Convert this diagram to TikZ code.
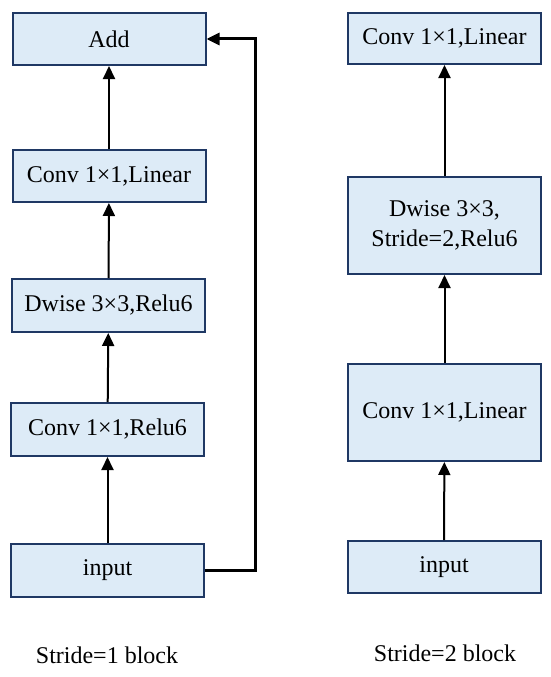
\documentclass[tikz,border=0pt]{standalone}
\usepackage{fontspec}
\setmainfont{Liberation Serif}
\usetikzlibrary{arrows.meta, positioning}
\definecolor{cfill}{HTML}{DDEBF7}
\definecolor{cedge}{HTML}{1F3864}
\tikzset{
  every picture/.style={font=\fontsize{24}{30}\selectfont},
  layer/.style={draw=cedge, fill=cfill, line width=2pt, align=center, minimum width=193pt, minimum height=#1, inner sep=0pt},
  layer/.default=52pt,
  arrow/.style={-{Triangle[length=13pt, width=12pt]}, draw=black, line width=2pt},
  skip/.style={arrow, line width=3pt},
  caption/.style={align=center},
}

\begin{document}
\begin{tikzpicture}[x=1pt, y=-1pt]
  \useasboundingbox (0,0) rectangle (550,677);
  % stride 1
  \node[layer] (add) at (109,39) {Add};
  \node[layer] (lin1) at (109,176) {Conv 1×1,Linear};
  \node[layer=53pt] (dw1) at (108.5,305.5) {Dwise 3×3,Relu6};
  \node[layer=53pt] (relu1) at (107.5,429.5) {Conv 1×1,Relu6};
  \node[layer=53pt] (in1) at (107.5,570.5) {input};
  \foreach \a/\b in {in1/relu1, relu1/dw1, dw1/lin1, lin1/add} \draw[arrow] (\a) -- (\b);
  \draw[skip] (in1.east) -- ++(50,0) |- (add.east);
  \node[caption] (cap1) at (107,655) {Stride=1 block};
  % stride 2
  \node[layer=51pt] (lin2) at (444.5,38.5) {Conv 1×1,Linear};
  \node[layer=97pt] (dw2) at (444.5,225.5) {Dwise 3×3,\\Stride=2,Relu6};
  \node[layer=97pt] (lin3) at (444.5,412.5) {Conv 1×1,Linear};
  \node[layer] (in2) at (444,567) {input};
  \foreach \a/\b in {in2/lin3, lin3/dw2, dw2/lin2} \draw[arrow] (\a) -- (\b);
  \node[caption] (cap2) at (445,653) {Stride=2 block};
\end{tikzpicture}
\end{document}
